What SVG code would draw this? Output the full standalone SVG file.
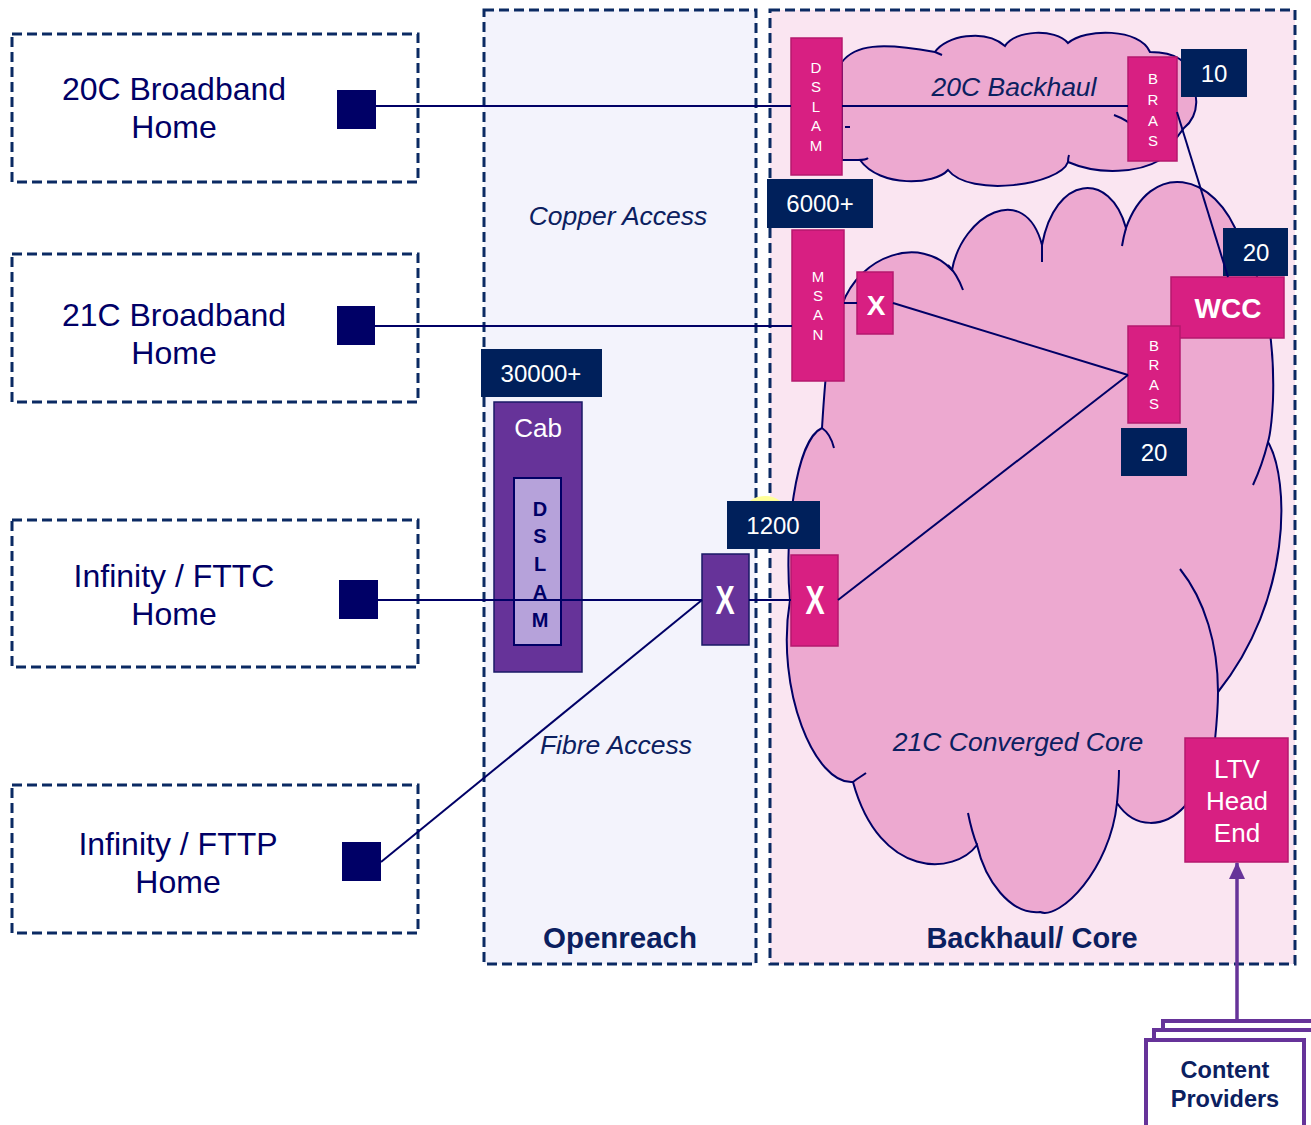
<svg xmlns="http://www.w3.org/2000/svg" width="1311" height="1125" viewBox="0 0 1311 1125">
<defs>
<style>
.dash{fill:none;stroke:#0b2a63;stroke-width:3;stroke-dasharray:10 5}
.home{font-family:"Liberation Sans",Arial,sans-serif;font-size:32px;fill:#000066;text-anchor:middle}
.sq{fill:#000066}
.conn{stroke:#000066;stroke-width:2;fill:none}
.mag{fill:#d81f82;stroke:#b5196e;stroke-width:1.5}
.lbl{fill:#00205b}
.wt{font-family:"Liberation Sans",Arial,sans-serif;fill:#fff;text-anchor:middle}
.vert{font-family:"Liberation Sans",Arial,sans-serif;font-size:15px;fill:#fff;text-anchor:middle}
.it{font-family:"Liberation Sans",Arial,sans-serif;font-style:italic;fill:#0b2060;text-anchor:middle}
.bold{font-family:"Liberation Sans",Arial,sans-serif;font-weight:bold;fill:#0b2060;text-anchor:middle}
.navyb{font-family:"Liberation Sans",Arial,sans-serif;font-weight:bold;fill:#000066;text-anchor:middle;font-size:20px}
.cloud{fill:#eda9d0;stroke:#000066;stroke-width:2}
.crease{fill:none;stroke:#000066;stroke-width:2}
</style>
<marker id="arr" markerWidth="18" markerHeight="16" refX="16" refY="8" orient="auto" markerUnits="userSpaceOnUse" viewBox="0 0 18 16"><path d="M0,0 L17,8 L0,16 Z" fill="#663399"/></marker>
</defs>

<!-- panels -->
<g id="panel-openreach">
<rect x="484" y="10" width="272" height="954" fill="#f3f3fc"/>
<rect x="484" y="10" width="272" height="954" class="dash"/>
<text x="618" y="225" class="it" font-size="26.5">Copper Access</text>
<text x="616" y="754" class="it" font-size="26.5">Fibre Access</text>
<text x="620" y="948" class="bold" font-size="29.5">Openreach</text>
</g>
<g id="panel-backhaul">
<rect x="770" y="10" width="525" height="954" fill="#fae5f1"/>
<rect x="770" y="10" width="525" height="954" class="dash"/>
<text x="1032" y="948" class="bold" font-size="29">Backhaul/ Core</text>
</g>

<!-- clouds -->
<g id="cloud-20c">
<path class="cloud" d="M842,62 C855,45 880,42 935,52 C945,36 985,28 1005,46 C1015,30 1055,28 1068,43 C1085,28 1140,28 1150,52 C1175,52 1192,62 1186,78 C1200,90 1200,115 1184,128 L1160,160 C1140,172 1100,176 1068,162 C1060,185 970,198 948,170 C935,185 880,188 860,160 L842,160 Z"/>
<path class="crease" d="M1114,115 C1125,119 1132,124 1137,130"/>
<path class="crease" d="M858,160 C862,160 866,160 868,158"/>
<path class="crease" d="M1068,162 C1068,160 1068,158 1069,155"/>
<path class="crease" d="M935,52 L942,55"/>
<path class="crease" d="M845,127 L850,127"/>
<text x="1014" y="96" class="it" font-size="26.5">20C Backhaul</text>
</g>

<g id="cloud-21c">
<path class="cloud" d="M842,305 C860,255 920,235 952,270 C962,215 1025,180 1042,245 C1055,175 1110,170 1126,228 C1150,160 1215,170 1240,240 C1265,280 1275,340 1273,400 C1272,420 1270,435 1268,442 C1290,480 1292,600 1218,692 C1218,705 1217,720 1215,740 L1185,806 C1165,828 1135,830 1117,803 C1110,870 1060,920 1040,912 C1010,915 985,880 977,845 C955,875 880,880 853,782 C815,785 775,690 790,600 C784,540 795,440 822,428 C825,380 828,330 842,305 Z"/>
<path class="crease" d="M948,265 C955,272 960,282 963,290"/>
<path class="crease" d="M1042,245 C1042,252 1042,258 1042,262"/>
<path class="crease" d="M1126,228 C1124,235 1123,240 1122,246"/>
<path class="crease" d="M1268,442 C1264,458 1259,472 1253,485"/>
<path class="crease" d="M1180,569 C1205,600 1218,645 1218,692"/>
<path class="crease" d="M1117,803 C1118,792 1119,780 1119,770"/>
<path class="crease" d="M977,845 C973,835 970,823 968,813"/>
<path class="crease" d="M853,782 C858,778 862,776 866,773"/>
<path class="crease" d="M822,428 C828,432 832,440 834,448"/>
<text x="1018" y="751" class="it" font-size="26.5">21C Converged Core</text>
</g>

<!-- homes -->
<g id="home-20c">
<rect x="12" y="34" width="406" height="148" class="dash"/>
<text x="174" y="100" class="home">20C Broadband</text>
<text x="174" y="138" class="home">Home</text>
<rect x="337" y="90" width="39" height="39" class="sq"/>
</g>
<g id="home-21c">
<rect x="12" y="254" width="406" height="148" class="dash"/>
<text x="174" y="326" class="home">21C Broadband</text>
<text x="174" y="364" class="home">Home</text>
<rect x="337" y="306" width="38" height="39" class="sq"/>
</g>
<g id="home-fttc">
<rect x="12" y="520" width="406" height="147" class="dash"/>
<text x="174" y="587" class="home">Infinity / FTTC</text>
<text x="174" y="625" class="home">Home</text>
<rect x="339" y="580" width="39" height="39" class="sq"/>
</g>
<g id="home-fttp">
<rect x="12" y="785" width="406" height="148" class="dash"/>
<text x="178" y="855" class="home">Infinity / FTTP</text>
<text x="178" y="893" class="home">Home</text>
<rect x="342" y="842" width="39" height="39" class="sq"/>
</g>

<!-- openreach nodes -->
<g id="lbl-30000">
<rect x="481" y="349" width="121" height="48" class="lbl"/>
<text x="541" y="382" class="wt" font-size="24">30000+</text>
</g>
<g id="cab">
<rect x="494" y="402" width="88" height="270" fill="#663399" stroke="#1a1a66" stroke-width="1.5"/>
<text x="538" y="437" class="wt" font-size="26">Cab</text>
<rect x="514" y="478" width="47" height="167" fill="#b6a2da" stroke="#000066" stroke-width="2"/>
<text x="540" y="516" class="navyb">D</text>
<text x="540" y="543" class="navyb">S</text>
<text x="540" y="571" class="navyb">L</text>
<text x="540" y="599" class="navyb">A</text>
<text x="540" y="627" class="navyb">M</text>
</g>
<g id="x-openreach">
<rect x="702" y="554" width="47" height="91" fill="#663399" stroke="#1a1a66" stroke-width="1.5"/>
<text transform="translate(725,614) scale(0.72,1)" class="wt" font-size="40" font-weight="bold">X</text>
</g>

<!-- backhaul nodes -->
<g id="dslam-20c">
<rect x="791" y="38" width="51" height="137" class="mag"/>
<text class="vert" x="816" y="73">D</text>
<text class="vert" x="816" y="92">S</text>
<text class="vert" x="816" y="112">L</text>
<text class="vert" x="816" y="131">A</text>
<text class="vert" x="816" y="151">M</text>
</g>
<g id="bras-20c">
<rect x="1128" y="57" width="49" height="104" class="mag"/>
<text class="vert" x="1153" y="84">B</text>
<text class="vert" x="1153" y="105">R</text>
<text class="vert" x="1153" y="126">A</text>
<text class="vert" x="1153" y="146">S</text>
</g>
<g id="lbl-10">
<rect x="1181" y="49" width="66" height="48" class="lbl"/>
<text x="1214" y="82" class="wt" font-size="24">10</text>
</g>
<g id="lbl-6000">
<rect x="767" y="179" width="106" height="49" class="lbl"/>
<text x="820" y="212" class="wt" font-size="24">6000+</text>
</g>
<g id="msan">
<rect x="792" y="230" width="52" height="151" class="mag"/>
<text class="vert" x="818" y="282">M</text>
<text class="vert" x="818" y="301">S</text>
<text class="vert" x="818" y="320">A</text>
<text class="vert" x="818" y="340">N</text>
</g>
<g id="x-msan">
<rect x="857" y="272" width="36" height="62" class="mag"/>
<text x="876" y="315" class="wt" font-size="28" font-weight="bold">X</text>
</g>
<g id="lbl-20-wcc">
<rect x="1223" y="228" width="65" height="48" class="lbl"/>
<text x="1256" y="261" class="wt" font-size="24">20</text>
</g>
<g id="wcc">
<rect x="1171" y="277" width="113" height="61" class="mag"/>
<text x="1228" y="318" class="wt" font-size="28" font-weight="bold">WCC</text>
</g>
<g id="bras-21c">
<rect x="1128" y="326" width="52" height="97" class="mag"/>
<text class="vert" x="1154" y="351">B</text>
<text class="vert" x="1154" y="370">R</text>
<text class="vert" x="1154" y="390">A</text>
<text class="vert" x="1154" y="409">S</text>
</g>
<g id="lbl-20-bras">
<rect x="1121" y="428" width="66" height="48" class="lbl"/>
<text x="1154" y="461" class="wt" font-size="24">20</text>
</g>
<g id="lbl-1200">
<ellipse cx="765" cy="514" rx="22" ry="18" fill="#ffff99"/>
<rect x="727" y="501" width="93" height="48" class="lbl"/>
<text x="773" y="534" class="wt" font-size="24">1200</text>
</g>
<g id="x-core">
<rect x="791" y="555" width="47" height="91" class="mag"/>
<text transform="translate(815,614) scale(0.72,1)" class="wt" font-size="40" font-weight="bold">X</text>
</g>
<g id="ltv">
<rect x="1185" y="738" width="103" height="124" class="mag"/>
<text x="1237" y="778" class="wt" font-size="26">LTV</text>
<text x="1237" y="810" class="wt" font-size="26">Head</text>
<text x="1237" y="842" class="wt" font-size="26">End</text>
</g>
<g id="content-providers">
<rect x="1163" y="1021" width="160" height="110" fill="#fff" stroke="#663399" stroke-width="4"/>
<rect x="1154" y="1030" width="160" height="110" fill="#fff" stroke="#663399" stroke-width="4"/>
<rect x="1146" y="1040" width="158" height="110" fill="#fff" stroke="#663399" stroke-width="4"/>
<text x="1225" y="1078" class="bold" font-size="23.5">Content</text>
<text x="1225" y="1107" class="bold" font-size="23.5">Providers</text>
</g>

<!-- connectors -->
<g id="connectors">
<line class="conn" x1="376" y1="106" x2="791" y2="106"/>
<line class="conn" x1="842" y1="106" x2="1128" y2="106"/>
<line class="conn" x1="1177" y1="112" x2="1228" y2="277"/>
<line class="conn" x1="375" y1="326" x2="792" y2="326"/>
<line class="conn" x1="844" y1="303" x2="857" y2="303"/>
<line class="conn" x1="893" y1="303" x2="1128" y2="375"/>
<line class="conn" x1="378" y1="600" x2="702" y2="600"/>
<line class="conn" x1="749" y1="600" x2="791" y2="600"/>
<line class="conn" x1="838" y1="600" x2="1128" y2="375"/>
<line class="conn" x1="381" y1="862" x2="702" y2="600"/>
<line x1="1237" y1="1021" x2="1237" y2="863" stroke="#663399" stroke-width="3.5" marker-end="url(#arr)"/>
</g>
</svg>
